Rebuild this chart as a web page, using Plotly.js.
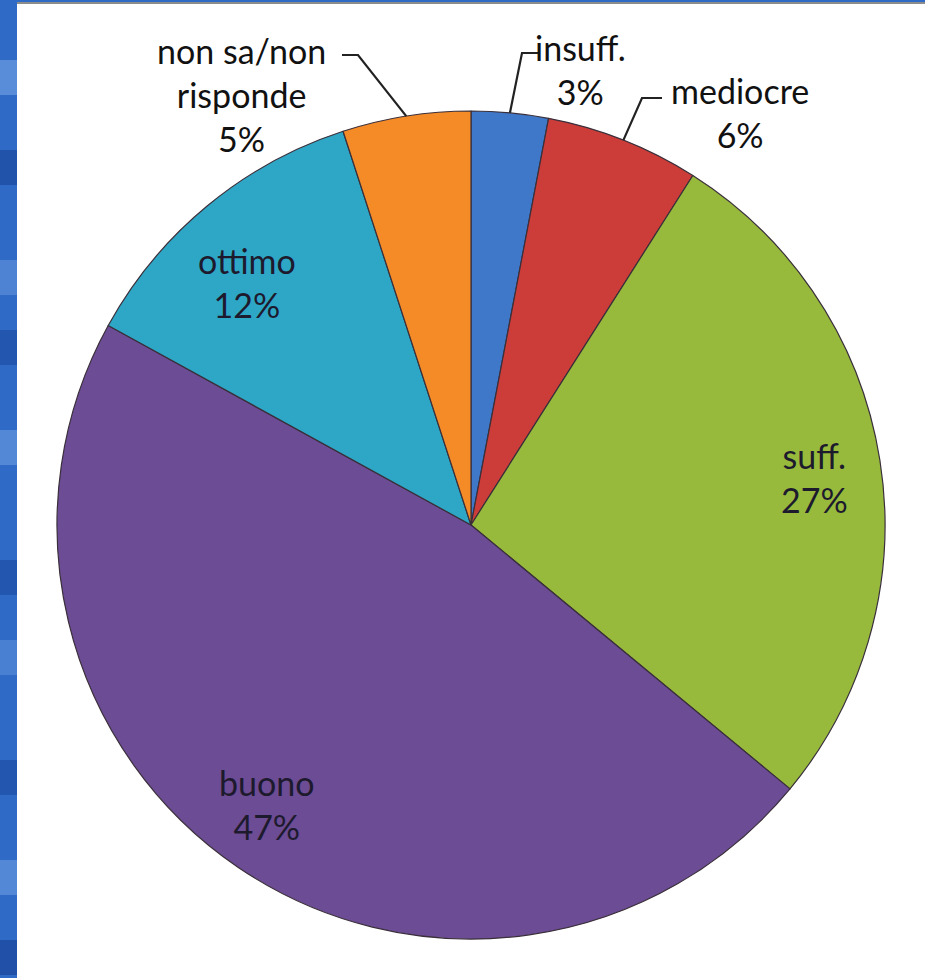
<!DOCTYPE html>
<html>
<head>
<meta charset="utf-8">
<script src="https://cdn.plot.ly/plotly-3.0.1.min.js"></script>
<style>
html,body{margin:0;padding:0;background:#2f6bc6;}
#chart{width:925px;height:978px;}
</style>
</head>
<body>
<div id="chart"></div>
<script>
// ---- data ----
const labels = ['insuff.', 'mediocre', 'suff.', 'buono', 'ottimo', 'non sa/non risponde'];
const labelLines = ['insuff.', 'mediocre', 'suff.', 'buono', 'ottimo', 'non sa/non<br>risponde'];
const values = [3, 6, 27, 47, 12, 5];
const percentText = ['3%', '6%', '27%', '47%', '12%', '5%'];
const colors = ['#3f78c8', '#cc3d3a', '#97ba3c', '#6c4c94', '#2ea7c6', '#f58b27'];

// ---- geometry / style ----
const W = 925, H = 978;
const CX = 471, CY = 525, R = 414;
const FONT = 'Lato, "Open Sans", sans-serif';

// per-slice label placement style
const labelStyle = [
  {mode: 'out', tx: 580, ty: 70, elbow: [522, 53], stub: [540, 53]},
  {mode: 'out', tx: 740, ty: 112, elbow: [642, 98], stub: [662, 98]},
  {mode: 'in', rf: 0.83, nudge: [4, 6]},
  {mode: 'in', rf: 0.83, nudge: [-11, -5]},
  {mode: 'in', rf: 0.83, nudge: [-5, 22]},
  {mode: 'out', tx: 241, ty: 94, elbow: [358, 55], stub: [342, 55]}
];

const px = x => x / W;
const py = y => 1 - y / H;

const total = values.reduce((a, b) => a + b, 0);
let cum = 0;
const annotations = [];
const shapes = [];

// white panel and top rule
shapes.push({type: 'rect', xref: 'paper', yref: 'paper', x0: px(17), x1: 1.01, y0: -0.01, y1: py(3),
  fillcolor: '#ffffff', line: {width: 0}, layer: 'below'});
shapes.push({type: 'line', xref: 'paper', yref: 'paper', x0: px(17), x1: 1.01, y0: py(3), y1: py(3),
  line: {color: '#8c8c8c', width: 2}, layer: 'below'});
// streaks on the blue border
[[60, 'rgba(170,205,255,0.35)'], [150, 'rgba(10,40,120,0.35)'], [260, 'rgba(170,205,255,0.25)'],
 [330, 'rgba(10,40,120,0.3)'], [430, 'rgba(170,205,255,0.3)'], [560, 'rgba(10,40,120,0.3)'],
 [640, 'rgba(170,205,255,0.22)'], [760, 'rgba(10,40,120,0.3)'], [860, 'rgba(170,205,255,0.3)'],
 [940, 'rgba(10,40,120,0.4)']].forEach(s => {
  shapes.push({type: 'rect', xref: 'paper', yref: 'paper', x0: 0, x1: px(17), y0: py(s[0] + 35), y1: py(s[0]),
    fillcolor: s[1], line: {width: 0}, layer: 'below'});
});

values.forEach((v, i) => {
  const mid = (cum + v / 2) / total * 2 * Math.PI;
  cum += v;
  const st = labelStyle[i];
  const text = labelLines[i] + '<br>' + percentText[i];
  if (st.mode === 'in') {
    const r = R * st.rf;
    const x = CX + r * Math.sin(mid) + st.nudge[0], y = CY - r * Math.cos(mid) + st.nudge[1];
    annotations.push({xref: 'paper', yref: 'paper', x: px(x), y: py(y), text: text, showarrow: false,
      xanchor: 'center', yanchor: 'middle', align: 'center',
      font: {family: FONT, size: 34, color: '#1d1a2e'}});
  } else {
    const ex = CX + R * Math.sin(mid), ey = CY - R * Math.cos(mid);
    annotations.push({xref: 'paper', yref: 'paper', x: px(st.tx), y: py(st.ty), text: text, showarrow: false,
      xanchor: 'center', yanchor: 'middle', align: 'center',
      font: {family: FONT, size: 34, color: '#111111'}});
    const path = 'M' + px(ex) + ',' + py(ey) + ' L' + px(st.elbow[0]) + ',' + py(st.elbow[1]) +
      ' L' + px(st.stub[0]) + ',' + py(st.stub[1]);
    shapes.push({type: 'path', xref: 'paper', yref: 'paper', path: path,
      line: {color: '#222222', width: 2.2}, layer: 'above'});
  }
});

const trace = {
  type: 'pie',
  labels: labels,
  values: values,
  sort: false,
  direction: 'clockwise',
  rotation: 0,
  textinfo: 'none',
  hoverinfo: 'label+percent',
  marker: {colors: colors, line: {color: '#3a2f3a', width: 1.2}},
  domain: {x: [px(CX - R), px(CX + R)], y: [py(CY + R), py(CY - R)]},
  showlegend: false
};

const layout = {
  width: W, height: H,
  margin: {l: 0, r: 0, t: 0, b: 0},
  paper_bgcolor: '#2f6bc6',
  showlegend: false,
  shapes: shapes,
  annotations: annotations,
  font: {family: FONT}
};

Plotly.newPlot('chart', [trace], layout, {displayModeBar: false, staticPlot: true});
</script>
</body>
</html>
